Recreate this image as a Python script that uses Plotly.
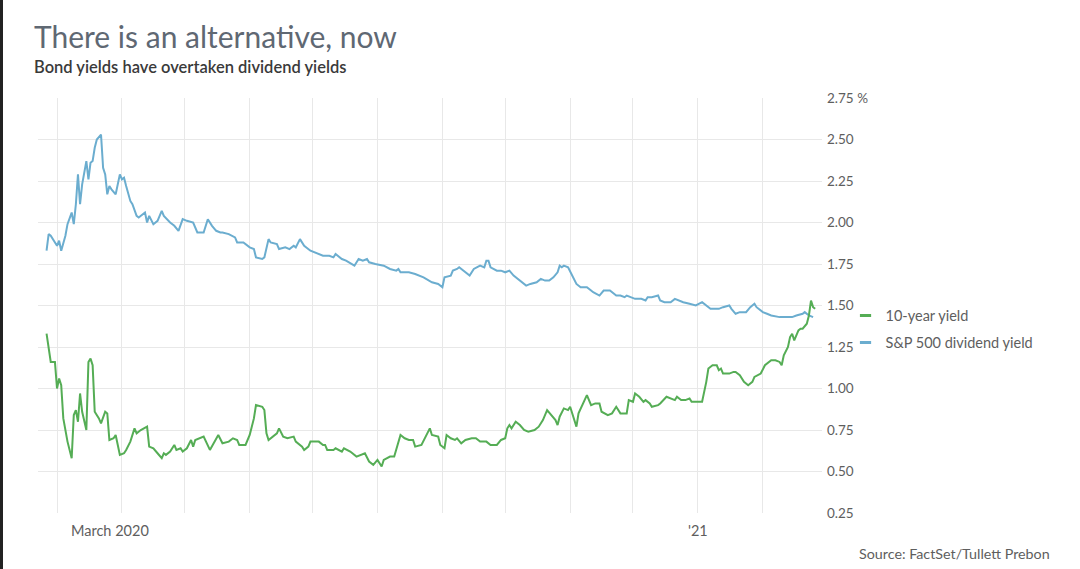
import plotly.graph_objects as go

# ---------------- data ----------------
div_dates = [
    "2020-02-25", "2020-02-26", "2020-02-27", "2020-03-01", "2020-03-02", "2020-03-03", "2020-03-05",
    "2020-03-06", "2020-03-08", "2020-03-09", "2020-03-10", "2020-03-11", "2020-03-12", "2020-03-13",
    "2020-03-15", "2020-03-16", "2020-03-17", "2020-03-18", "2020-03-19", "2020-03-20", "2020-03-22",
    "2020-03-23", "2020-03-24", "2020-03-25", "2020-03-26", "2020-03-27", "2020-03-29", "2020-03-31",
    "2020-04-01", "2020-04-02", "2020-04-03", "2020-04-05", "2020-04-06", "2020-04-08", "2020-04-09",
    "2020-04-12", "2020-04-13", "2020-04-14", "2020-04-16", "2020-04-18", "2020-04-20", "2020-04-21",
    "2020-04-24", "2020-04-26", "2020-04-28", "2020-04-30", "2020-05-02", "2020-05-05", "2020-05-07",
    "2020-05-10", "2020-05-12", "2020-05-14", "2020-05-16", "2020-05-18", "2020-05-19", "2020-05-22",
    "2020-05-25", "2020-05-26", "2020-05-29", "2020-06-01", "2020-06-03", "2020-06-04", "2020-06-07",
    "2020-06-08", "2020-06-10", "2020-06-11", "2020-06-14", "2020-06-15", "2020-06-18", "2020-06-20",
    "2020-06-22", "2020-06-23", "2020-06-25", "2020-06-27", "2020-06-30", "2020-07-04", "2020-07-06",
    "2020-07-09", "2020-07-11", "2020-07-12", "2020-07-15", "2020-07-17", "2020-07-21", "2020-07-23",
    "2020-07-25", "2020-07-27", "2020-07-28", "2020-07-31", "2020-08-04", "2020-08-07", "2020-08-10",
    "2020-08-11", "2020-08-12", "2020-08-16", "2020-08-19", "2020-08-23", "2020-08-27", "2020-08-30",
    "2020-09-01", "2020-09-02", "2020-09-05", "2020-09-06", "2020-09-08", "2020-09-09", "2020-09-12",
    "2020-09-14", "2020-09-16", "2020-09-19", "2020-09-21", "2020-09-22", "2020-09-23", "2020-09-24",
    "2020-09-27", "2020-09-29", "2020-10-01", "2020-10-03", "2020-10-05", "2020-10-06", "2020-10-09",
    "2020-10-11", "2020-10-13", "2020-10-16", "2020-10-18", "2020-10-20", "2020-10-22", "2020-10-24",
    "2020-10-26", "2020-10-27", "2020-10-28", "2020-10-29", "2020-10-31", "2020-11-02", "2020-11-04",
    "2020-11-06", "2020-11-09", "2020-11-11", "2020-11-12", "2020-11-15", "2020-11-17", "2020-11-20",
    "2020-11-21", "2020-11-23", "2020-11-25", "2020-11-27", "2020-11-28", "2020-11-30", "2020-12-02",
    "2020-12-05", "2020-12-07", "2020-12-08", "2020-12-10", "2020-12-13", "2020-12-14", "2020-12-16",
    "2020-12-19", "2020-12-21", "2020-12-23", "2020-12-25", "2020-12-28", "2020-12-31", "2021-01-03",
    "2021-01-05", "2021-01-07", "2021-01-09", "2021-01-11", "2021-01-13", "2021-01-16", "2021-01-17",
    "2021-01-19", "2021-01-21", "2021-01-23", "2021-01-24", "2021-01-26", "2021-01-28", "2021-01-29",
    "2021-02-01", "2021-02-03", "2021-02-05", "2021-02-09", "2021-02-12", "2021-02-15", "2021-02-17",
    "2021-02-20", "2021-02-21", "2021-02-23", "2021-02-25",
]
div_yield = [
    1.83, 1.93, 1.92, 1.86, 1.89, 1.83, 1.92,
    1.99, 2.06, 1.99, 2.11, 2.29, 2.11, 2.23,
    2.37, 2.26, 2.36, 2.37, 2.45, 2.50, 2.53,
    2.33, 2.29, 2.17, 2.22, 2.20, 2.17, 2.29,
    2.26, 2.27, 2.22, 2.13, 2.11, 2.04, 2.03,
    2.06, 2.00, 2.04, 1.99, 2.01, 2.07, 2.04,
    2.00, 1.98, 1.95, 2.02, 2.01, 2.00, 1.94,
    1.94, 2.02, 1.98, 1.95, 1.94, 1.94, 1.93,
    1.91, 1.88, 1.88, 1.85, 1.84, 1.79, 1.78,
    1.79, 1.90, 1.88, 1.87, 1.84, 1.85, 1.84,
    1.86, 1.85, 1.90, 1.86, 1.83, 1.81, 1.80,
    1.80, 1.79, 1.81, 1.78, 1.77, 1.74, 1.78,
    1.77, 1.78, 1.76, 1.75, 1.74, 1.72, 1.71,
    1.72, 1.70, 1.70, 1.69, 1.67, 1.64, 1.63,
    1.61, 1.67, 1.68, 1.71, 1.72, 1.73, 1.70,
    1.68, 1.72, 1.74, 1.73, 1.77, 1.77, 1.73,
    1.71, 1.71, 1.70, 1.71, 1.68, 1.67, 1.64,
    1.62, 1.63, 1.64, 1.66, 1.65, 1.65, 1.67,
    1.70, 1.74, 1.73, 1.74, 1.73, 1.68, 1.63,
    1.61, 1.61, 1.59, 1.58, 1.56, 1.59, 1.59,
    1.58, 1.56, 1.56, 1.55, 1.56, 1.55, 1.54,
    1.54, 1.53, 1.55, 1.55, 1.56, 1.53, 1.52,
    1.52, 1.54, 1.53, 1.52, 1.51, 1.50, 1.52,
    1.50, 1.48, 1.48, 1.48, 1.49, 1.50, 1.48,
    1.45, 1.46, 1.46, 1.46, 1.49, 1.51, 1.49,
    1.46, 1.45, 1.44, 1.43, 1.43, 1.43, 1.44,
    1.45, 1.46, 1.44, 1.43,
]

bond_dates = [
    "2020-02-25", "2020-02-26", "2020-02-27", "2020-02-29", "2020-03-01", "2020-03-02", "2020-03-03",
    "2020-03-04", "2020-03-06", "2020-03-08", "2020-03-09", "2020-03-10", "2020-03-11", "2020-03-12",
    "2020-03-13", "2020-03-15", "2020-03-16", "2020-03-17", "2020-03-18", "2020-03-19", "2020-03-21",
    "2020-03-22", "2020-03-24", "2020-03-25", "2020-03-26", "2020-03-28", "2020-03-29", "2020-03-31",
    "2020-04-02", "2020-04-03", "2020-04-05", "2020-04-07", "2020-04-08", "2020-04-10", "2020-04-13",
    "2020-04-14", "2020-04-16", "2020-04-18", "2020-04-20", "2020-04-21", "2020-04-22", "2020-04-24",
    "2020-04-26", "2020-04-27", "2020-04-29", "2020-04-30", "2020-05-02", "2020-05-04", "2020-05-05",
    "2020-05-06", "2020-05-10", "2020-05-13", "2020-05-17", "2020-05-19", "2020-05-22", "2020-05-24",
    "2020-05-26", "2020-05-27", "2020-05-30", "2020-06-01", "2020-06-03", "2020-06-04", "2020-06-07",
    "2020-06-08", "2020-06-09", "2020-06-10", "2020-06-12", "2020-06-14", "2020-06-15", "2020-06-17",
    "2020-06-19", "2020-06-22", "2020-06-23", "2020-06-26", "2020-06-27", "2020-06-29", "2020-06-30",
    "2020-07-04", "2020-07-06", "2020-07-07", "2020-07-08", "2020-07-11", "2020-07-12", "2020-07-15",
    "2020-07-16", "2020-07-19", "2020-07-22", "2020-07-24", "2020-07-26", "2020-07-28", "2020-07-30",
    "2020-08-01", "2020-08-03", "2020-08-04", "2020-08-07", "2020-08-09", "2020-08-12", "2020-08-14",
    "2020-08-16", "2020-08-18", "2020-08-19", "2020-08-22", "2020-08-24", "2020-08-26", "2020-08-27",
    "2020-08-30", "2020-08-31", "2020-09-02", "2020-09-03", "2020-09-05", "2020-09-07", "2020-09-08",
    "2020-09-10", "2020-09-12", "2020-09-15", "2020-09-17", "2020-09-19", "2020-09-22", "2020-09-24",
    "2020-09-27", "2020-09-29", "2020-10-01", "2020-10-02", "2020-10-03", "2020-10-04", "2020-10-06",
    "2020-10-08", "2020-10-10", "2020-10-12", "2020-10-15", "2020-10-17", "2020-10-19", "2020-10-21",
    "2020-10-23", "2020-10-25", "2020-10-26", "2020-10-27", "2020-10-29", "2020-10-31", "2020-11-01",
    "2020-11-04", "2020-11-05", "2020-11-07", "2020-11-09", "2020-11-11", "2020-11-13", "2020-11-15",
    "2020-11-16", "2020-11-19", "2020-11-21", "2020-11-23", "2020-11-25", "2020-11-27", "2020-11-28",
    "2020-11-29", "2020-12-01", "2020-12-02", "2020-12-04", "2020-12-06", "2020-12-07", "2020-12-09",
    "2020-12-10", "2020-12-13", "2020-12-14", "2020-12-17", "2020-12-19", "2020-12-21", "2020-12-22",
    "2020-12-24", "2020-12-26", "2020-12-28", "2020-12-29", "2021-01-01", "2021-01-03", "2021-01-05",
    "2021-01-06", "2021-01-08", "2021-01-10", "2021-01-11", "2021-01-12", "2021-01-13", "2021-01-16",
    "2021-01-18", "2021-01-19", "2021-01-21", "2021-01-23", "2021-01-25", "2021-01-27", "2021-01-28",
    "2021-01-31", "2021-02-02", "2021-02-05", "2021-02-07", "2021-02-09", "2021-02-10", "2021-02-11",
    "2021-02-13", "2021-02-14", "2021-02-15", "2021-02-16", "2021-02-18", "2021-02-19", "2021-02-20",
    "2021-02-22", "2021-02-23", "2021-02-24", "2021-02-25", "2021-02-26",
]
bond_yield = [
    1.33, 1.255, 1.16, 1.16, 1.00, 1.06, 1.02,
    0.82, 0.68, 0.58, 0.84, 0.87, 0.80, 0.97,
    0.86, 0.75, 1.16, 1.18, 1.14, 0.86, 0.82,
    0.79, 0.86, 0.85, 0.69, 0.70, 0.72, 0.60,
    0.61, 0.63, 0.68, 0.76, 0.73, 0.75, 0.77,
    0.65, 0.64, 0.61, 0.58, 0.61, 0.60, 0.62,
    0.66, 0.63, 0.64, 0.62, 0.64, 0.69, 0.65,
    0.69, 0.71, 0.63, 0.72, 0.67, 0.68, 0.70,
    0.69, 0.66, 0.66, 0.72, 0.82, 0.90, 0.89,
    0.87, 0.73, 0.69, 0.71, 0.73, 0.76, 0.71,
    0.70, 0.71, 0.68, 0.65, 0.63, 0.65, 0.68,
    0.68, 0.66, 0.66, 0.63, 0.63, 0.64, 0.62,
    0.64, 0.62, 0.59, 0.60, 0.61, 0.56, 0.54,
    0.57, 0.53, 0.57, 0.59, 0.59, 0.72, 0.70,
    0.69, 0.69, 0.65, 0.66, 0.71, 0.76, 0.72,
    0.71, 0.66, 0.64, 0.72, 0.70, 0.69, 0.70,
    0.67, 0.69, 0.70, 0.70, 0.68, 0.68, 0.66,
    0.66, 0.69, 0.70, 0.76, 0.78, 0.76, 0.80,
    0.78, 0.75, 0.74, 0.75, 0.77, 0.81, 0.87,
    0.84, 0.81, 0.78, 0.83, 0.88, 0.87, 0.89,
    0.77, 0.85, 0.91, 0.96, 0.90, 0.91, 0.91,
    0.86, 0.84, 0.85, 0.89, 0.85, 0.85, 0.85,
    0.93, 0.92, 0.97, 0.95, 0.92, 0.93, 0.91,
    0.89, 0.90, 0.91, 0.95, 0.94, 0.93, 0.95,
    0.93, 0.93, 0.94, 0.92, 0.92, 0.92, 1.04,
    1.12, 1.14, 1.14, 1.11, 1.12, 1.09, 1.09,
    1.10, 1.10, 1.08, 1.04, 1.02, 1.04, 1.07,
    1.09, 1.14, 1.17, 1.17, 1.16, 1.14, 1.20,
    1.25, 1.31, 1.33, 1.29, 1.35, 1.36, 1.36,
    1.39, 1.44, 1.53, 1.49, 1.48,
]

series_names = ["10-year yield", "S&P 500 dividend yield"]
y_ticks = [0.25, 0.50, 0.75, 1.00, 1.25, 1.50, 1.75, 2.00, 2.25, 2.50, 2.75]
y_tick_labels = ["0.25", "0.50", "0.75", "1.00", "1.25", "1.50", "1.75", "2.00", "2.25", "2.50", "2.75 %"]
x_labels = ["March 2020", "'21"]
x_label_dates = ["2020-03-01", "2021-01-01"]

title_text = "There is an alternative, now"
subtitle_text = "Bond yields have overtaken dividend yields"
source_text = "Source: FactSet/Tullett Prebon"

# ---------------- style ----------------
GREEN = "#55ad55"
BLUE = "#6badcf"
GRID = "#e8e8e8"
FONT = "Lato, 'Open Sans', sans-serif"
TXT = "#5e5e5e"

fig = go.Figure()

fig.add_trace(go.Scatter(x=div_dates, y=div_yield, mode="lines",
                         line=dict(color=BLUE, width=2), showlegend=False,
                         name=series_names[1]))
fig.add_trace(go.Scatter(x=bond_dates, y=bond_yield, mode="lines",
                         line=dict(color=GREEN, width=2), showlegend=False,
                         name=series_names[0]))

# legend-only entries with short dash symbols
for i, (name, col) in enumerate([(series_names[0], GREEN), (series_names[1], BLUE)]):
    fig.add_trace(go.Scatter(x=[None], y=[None], mode="markers", name=name,
                             legendgroup=f"g{i}",
                             marker=dict(symbol="line-ew-open", size=8, color=col,
                                         line=dict(color=col, width=3))))

fig.update_layout(
    width=1080, height=569,
    margin=dict(l=38, r=258, t=98, b=56),
    paper_bgcolor="white", plot_bgcolor="white",
    font=dict(family=FONT, size=13, color=TXT),
    showlegend=True,
    legend=dict(x=1.03, y=0.443, xanchor="left", yanchor="middle",
                font=dict(family=FONT, size=14.5, color=TXT),
                itemwidth=30, tracegroupgap=5, bgcolor="rgba(0,0,0,0)",
                traceorder="grouped"),
    xaxis=dict(
        type="date",
        range=["2020-02-20 22:00", "2021-03-01 06:00"],
        tick0="2020-03-01", dtick="M1",
        showgrid=True, gridcolor=GRID, gridwidth=1,
        showticklabels=False, ticks="", zeroline=False, showline=False,
    ),
    yaxis=dict(
        side="right", range=[0.25, 2.75],
        tickvals=y_ticks, ticktext=y_tick_labels,
        showgrid=True, gridcolor=GRID, gridwidth=1,
        ticks="", ticklabelstandoff=4, zeroline=False, showline=False,
        tickfont=dict(family=FONT, size=13.5, color=TXT),
    ),
)

annotations = [
    dict(text=title_text, xref="paper", yref="paper", x=-0.008, y=1.0,
         xanchor="left", yanchor="bottom", yshift=42, showarrow=False,
         font=dict(family=FONT, size=30, color="#5f6873")),
    dict(text=subtitle_text, xref="paper", yref="paper", x=-0.008, y=1.0,
         xanchor="left", yanchor="bottom", yshift=19, showarrow=False,
         font=dict(family=FONT, size=16.5, color="#3a3a3a", weight=600)),
    dict(text=source_text, xref="paper", yref="paper", x=1.293, y=0.0,
         xanchor="right", yanchor="top", yshift=-30, showarrow=False,
         font=dict(family=FONT, size=14.3, color=TXT)),
    dict(text=x_labels[0], xref="x", yref="paper", x=x_label_dates[0], y=0.0,
         xanchor="left", yanchor="top", xshift=12, yshift=-7, showarrow=False,
         font=dict(family=FONT, size=14.5, color=TXT)),
    dict(text=x_labels[1], xref="x", yref="paper", x=x_label_dates[1], y=0.0,
         xanchor="center", yanchor="top", yshift=-7, showarrow=False,
         font=dict(family=FONT, size=14.5, color=TXT)),
]
fig.update_layout(annotations=annotations)

# thin dark strip on the left edge of the picture
fig.add_shape(type="rect", xref="paper", yref="paper",
              x0=-38 / 784, x1=-35 / 784, y0=-56 / 415, y1=(415 + 98) / 415,
              fillcolor="#222222", line=dict(width=0), layer="above")

fig.write_html("out.html")
